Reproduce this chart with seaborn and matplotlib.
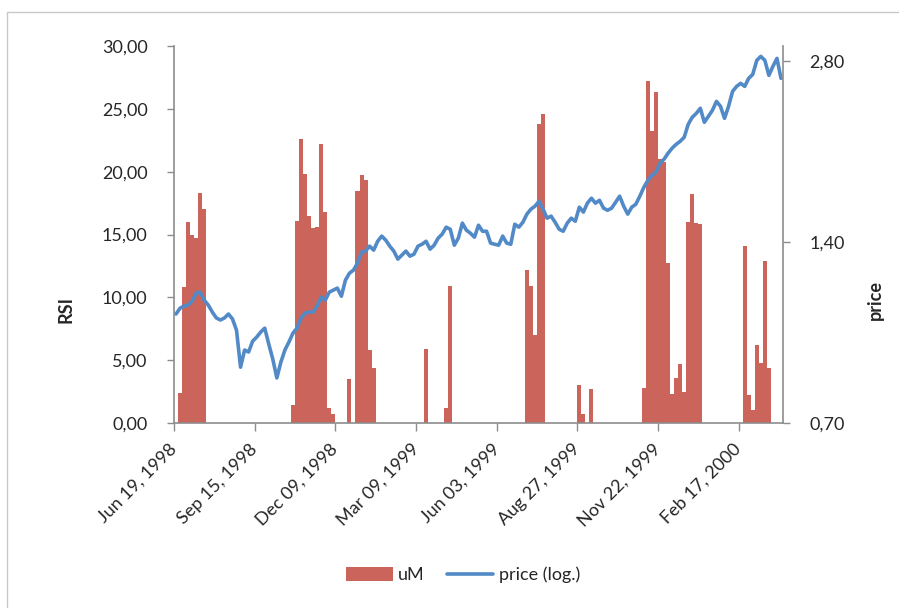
'''RSI (uM) bars with log price line on a secondary axis'''
#%% Import packages
import matplotlib
matplotlib.use('Agg')
import matplotlib.pyplot as plt
import numpy as np
import pandas as pd
import seaborn as sns
from matplotlib.lines import Line2D
from matplotlib.patches import Patch, Rectangle
from matplotlib.ticker import NullLocator


tick_labels = ['Jun 19, 1998', 'Sep 15, 1998', 'Dec 09, 1998', 'Mar 09, 1999',
               'Jun 03, 1999', 'Aug 27, 1999', 'Nov 22, 1999', 'Feb 17, 2000']

uM = [
    0, 2.4, 10.8, 16.0, 15.0, 14.7, 18.3, 17.0, 0, 0,
    0, 0, 0, 0, 0, 0, 0, 0, 0, 0,
    0, 0, 0, 0, 0, 0, 0, 0, 0, 1.4,
    16.1, 22.6, 19.8, 16.5, 15.5, 15.6, 22.2, 16.8, 1.2, 0.7,
    0, 0, 0, 3.5, 0, 18.5, 19.7, 19.3, 5.8, 4.4,
    0, 0, 0, 0, 0, 0, 0, 0, 0, 0,
    0, 0, 5.9, 0, 0, 0, 0, 1.2, 10.9, 0,
    0, 0, 0, 0, 0, 0, 0, 0, 0, 0,
    0, 0, 0, 0, 0, 0, 0, 12.2, 10.9, 7.0,
    23.8, 24.6, 0, 0, 0, 0, 0, 0, 0, 0,
    3.0, 0.7, 0, 2.7, 0, 0, 0, 0, 0, 0,
    0, 0, 0, 0, 0, 0, 2.8, 27.2, 23.2, 26.3,
    21.0, 20.8, 12.7, 2.3, 3.6, 4.7, 2.5, 16.0, 18.2, 15.9,
    15.8, 0, 0, 0, 0, 0, 0, 0, 0, 0,
    0, 14.1, 2.2, 1.0, 6.2, 4.8, 12.9, 4.4, 0, 0,
    0,
]

price = [
    1.063, 1.087, 1.096, 1.100, 1.117, 1.152, 1.156, 1.121, 1.100, 1.071,
    1.047, 1.039, 1.047, 1.063, 1.043, 0.999, 0.867, 0.926, 0.919, 0.958,
    0.973, 0.992, 1.007, 0.947, 0.894, 0.832, 0.884, 0.926, 0.955, 0.988,
    1.007, 1.047, 1.067, 1.071, 1.071, 1.096, 1.134, 1.121, 1.156, 1.165,
    1.174, 1.138, 1.210, 1.243, 1.258, 1.292, 1.347, 1.353, 1.379, 1.358,
    1.405, 1.433, 1.411, 1.379, 1.353, 1.312, 1.332, 1.353, 1.327, 1.337,
    1.379, 1.389, 1.405, 1.363, 1.384, 1.422, 1.444, 1.483, 1.471, 1.384,
    1.422, 1.506, 1.466, 1.449, 1.427, 1.494, 1.460, 1.460, 1.395, 1.389,
    1.384, 1.433, 1.395, 1.389, 1.500, 1.483, 1.511, 1.559, 1.589, 1.607,
    1.638, 1.589, 1.535, 1.547, 1.511, 1.471, 1.460, 1.506, 1.535, 1.517,
    1.601, 1.571, 1.626, 1.657, 1.626, 1.644, 1.595, 1.582, 1.595, 1.632,
    1.670, 1.607, 1.559, 1.601, 1.619, 1.670, 1.728, 1.775, 1.809, 1.830,
    1.895, 1.924, 1.969, 2.007, 2.037, 2.061, 2.093, 2.200, 2.260, 2.294,
    2.339, 2.217, 2.268, 2.321, 2.402, 2.357, 2.251, 2.357, 2.496, 2.544,
    2.574, 2.544, 2.624, 2.664, 2.811, 2.854, 2.811, 2.654, 2.747, 2.832,
    2.624,
]

rsi_ticks = [0, 5, 10, 15, 20, 25, 30]
price_ticks = [0.70, 1.40, 2.80]

BAR_COLOR = '#CB655B'
LINE_COLOR = '#5289C7'
AXIS_GRAY = '#8C8C8C'

df = pd.DataFrame({'obs': np.arange(len(price)), 'uM': uM, 'price': price})

#%% Plot
sns.set_style('white')
plt.rcParams['font.family'] = ['Lato', 'DejaVu Sans']

fig = plt.figure(figsize=(8.99, 6.08), dpi=100)
ax = fig.add_axes([174 / 899, 1 - 423 / 608, 609 / 899, 377 / 608])

sns.barplot(data=df, x='obs', y='uM', color=BAR_COLOR, saturation=1, width=1,
            errorbar=None, linewidth=0, ax=ax)
# contiguous bars without seams
for bar in ax.patches:
    bar.set_antialiased(False)

ax2 = ax.twinx()
sns.lineplot(data=df, x='obs', y='price', color=LINE_COLOR, linewidth=2.6, ax=ax2)

# Left axis (RSI)
ax.set_xlim(-0.5, len(price) - 0.5)
ax.set_ylim(0, 30)
ax.set_yticks(rsi_ticks)
ax.set_yticklabels([f'{v:.2f}'.replace('.', ',') for v in rsi_ticks])
ax.set_xticks(np.arange(len(tick_labels)) * 20 - 0.5)
ax.set_xticklabels(tick_labels, rotation=45, ha='right', va='center',
                   rotation_mode='anchor')
ax.set_xlabel('')
ax.set_ylabel('')
ax.tick_params(axis='y', direction='out', length=5, width=1, color=AXIS_GRAY,
               pad=14, labelsize=13, left=True)
ax.tick_params(axis='x', direction='out', length=6, width=1, color=AXIS_GRAY,
               pad=11, labelsize=13, bottom=True)

# Right axis (log price)
ax2.set_yscale('log', base=2)
ax2.set_ylim(0.70, 2.97)
ax2.set_yticks(price_ticks)
ax2.set_yticklabels([f'{v:.2f}'.replace('.', ',') for v in price_ticks])
ax2.yaxis.set_minor_locator(NullLocator())
ax2.set_ylabel('')
ax2.tick_params(axis='y', direction='out', length=5, width=1, color=AXIS_GRAY,
                pad=14, labelsize=13, right=True)

for a in (ax, ax2):
    for side in a.spines:
        a.spines[side].set_visible(False)
ax.spines['left'].set_visible(True)
ax.spines['bottom'].set_visible(True)
ax2.spines['right'].set_visible(True)
for sp in (ax.spines['left'], ax.spines['bottom'], ax2.spines['right']):
    sp.set_color(AXIS_GRAY)
    sp.set_linewidth(1.2)

# Axis titles
fig.text(66 / 899, 1 - 310 / 608, 'RSI', rotation=90, fontsize=13,
         fontweight='bold', ha='center', va='center')
fig.text(875 / 899, 1 - 300 / 608, 'price', rotation=90, fontsize=13,
         fontweight='bold', ha='center', va='center')

# Legend
handles = [Patch(facecolor=BAR_COLOR, edgecolor='none', label='uM'),
           Line2D([0], [0], color=LINE_COLOR, linewidth=2.6, label='price (log.)')]
fig.legend(handles=handles, loc='center', bbox_to_anchor=(463 / 899, 1 - 575 / 608),
           ncol=2, frameon=False, fontsize=13, handlelength=2.6,
           handleheight=0.8, handletextpad=0.3, columnspacing=1.2)

# Chart area border
fig.patches.append(Rectangle((7 / 899, -0.05), 1.2, 1.05 - 11.5 / 608,
                             transform=fig.transFigure, fill=False,
                             edgecolor='#C8C8C8', linewidth=1))

fig.savefig('out.png', dpi=100)
